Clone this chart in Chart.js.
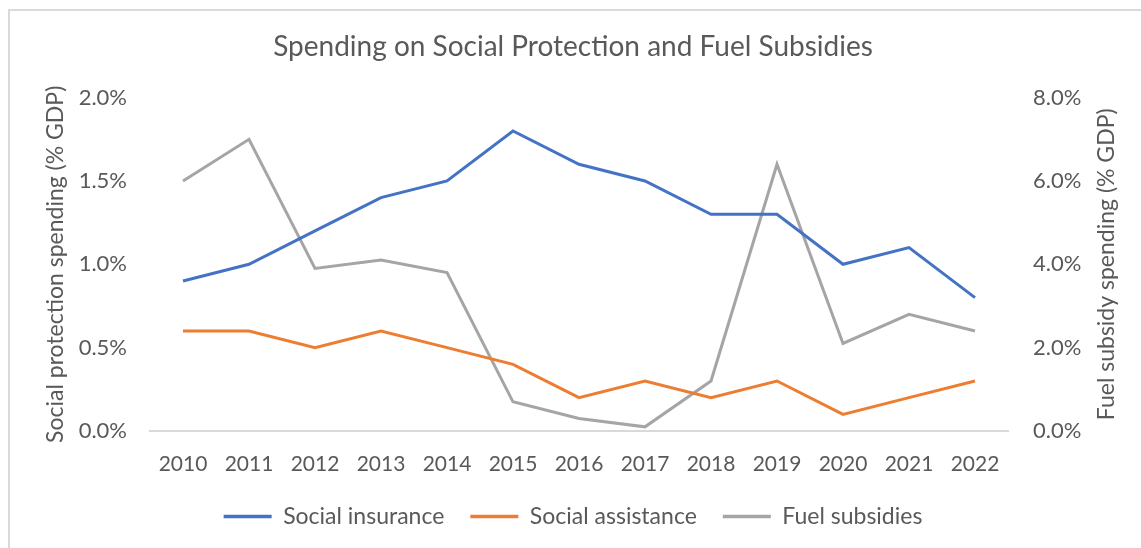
<!DOCTYPE html>
<html>
<head>
<meta charset="utf-8">
<script src="https://cdn.jsdelivr.net/npm/chart.js@4.4.1/dist/chart.umd.min.js"></script>
<style>
  html, body { margin: 0; padding: 0; background: #fff; }
  #frame {
    position: absolute; left: 8px; top: 9px; right: -10px; bottom: -10px;
    border-top: 2px solid #d9d9d9; border-left: 2px solid #d9d9d9;
  }
  #wrap { position: absolute; left: 0; top: 0; width: 1141px; height: 548px; }
</style>
</head>
<body>
<div id="frame"></div>
<div id="wrap"><canvas id="spendingChart" width="1141" height="548"></canvas></div>
<script>
const years = ['2010', '2011', '2012', '2013', '2014', '2015', '2016', '2017', '2018', '2019', '2020', '2021', '2022'];
const socialInsurance = [0.9, 1.0, 1.2, 1.4, 1.5, 1.8, 1.6, 1.5, 1.3, 1.3, 1.0, 1.1, 0.8];
const socialAssistance = [0.6, 0.6, 0.5, 0.6, 0.5, 0.4, 0.2, 0.3, 0.2, 0.3, 0.1, 0.2, 0.3];
const fuelSubsidies = [6.0, 7.0, 3.9, 4.1, 3.8, 0.7, 0.3, 0.1, 1.2, 6.4, 2.1, 2.8, 2.4];

const textGrey = '#595959';
const fontFamily = 'Lato, "Open Sans", sans-serif';
const rightTitle = 'Fuel subsidy spending (% GDP)';

// right-hand axis title, written bottom-to-top like the left one
const rightTitlePlugin = {
    id: 'rightTitle',
    afterDraw: function(chart) {
        const scale = chart.scales.y1;
        const area = chart.chartArea;
        const c = chart.ctx;
        c.save();
        c.translate(scale.right - 5 - 14, (area.top + area.bottom) / 2);
        c.rotate(-Math.PI / 2);
        c.font = '23px ' + fontFamily;
        c.fillStyle = textGrey;
        c.textAlign = 'center';
        c.textBaseline = 'middle';
        c.fillText(rightTitle, 0, 0);
        c.restore();
    }
};

const ctx = document.getElementById('spendingChart').getContext('2d');
const spendingChart = new Chart(ctx, {
    type: 'line',
    data: {
        labels: years,
        datasets: [{
            label: 'Social insurance',
            data: socialInsurance,
            borderColor: '#4472C4',
            backgroundColor: '#4472C4',
            borderWidth: 3,
            yAxisID: 'y'
        }, {
            label: 'Social assistance',
            data: socialAssistance,
            borderColor: '#ED7D31',
            backgroundColor: '#ED7D31',
            borderWidth: 3,
            yAxisID: 'y'
        }, {
            label: 'Fuel subsidies',
            data: fuelSubsidies,
            borderColor: '#A5A5A5',
            backgroundColor: '#A5A5A5',
            borderWidth: 3,
            yAxisID: 'y1'
        }]
    },
    plugins: [rightTitlePlugin],
    options: {
        responsive: false,
        animation: false,
        layout: {
            padding: { left: 20, right: 15, top: 30, bottom: 10 }
        },
        elements: {
            line: { tension: 0 },
            point: { radius: 0 }
        },
        plugins: {
            title: {
                display: true,
                text: 'Spending on Social Protection and Fuel Subsidies',
                color: textGrey,
                font: { family: fontFamily, size: 28, weight: 'normal' },
                padding: { top: 0, bottom: 34 }
            },
            legend: {
                position: 'bottom',
                labels: {
                    color: textGrey,
                    font: { family: fontFamily, size: 23 },
                    usePointStyle: true,
                    pointStyle: 'line',
                    pointStyleWidth: 48,
                    boxHeight: 23,
                    padding: 26,
                    // legend swatches drawn as thick line segments
                    generateLabels: function(chart) {
                        const items = Chart.defaults.plugins.legend.labels.generateLabels(chart);
                        items.forEach(function(item) { item.lineWidth = 3.5; });
                        return items;
                    }
                }
            },
            tooltip: { enabled: false }
        },
        scales: {
            x: {
                offset: true,
                grid: { display: false, drawTicks: false },
                border: { color: '#d9d9d9', width: 2 },
                ticks: {
                    color: textGrey,
                    font: { family: fontFamily, size: 21 },
                    maxRotation: 0,
                    padding: 21
                },
                afterFit: function(scale) { scale.height = 48; }
            },
            y: {
                position: 'left',
                min: 0,
                max: 2,
                grid: { display: false, drawTicks: false },
                border: { display: false },
                ticks: {
                    stepSize: 0.5,
                    color: textGrey,
                    font: { family: fontFamily, size: 22 },
                    padding: 23,
                    callback: function(value) { return value.toFixed(1) + '%'; }
                },
                title: {
                    display: true,
                    text: 'Social protection spending (% GDP)',
                    color: textGrey,
                    font: { family: fontFamily, size: 23 },
                    padding: { top: 22, bottom: 0 }
                },
                afterFit: function(scale) { scale.width = 130; }
            },
            y1: {
                position: 'right',
                min: 0,
                max: 8,
                grid: { display: false, drawTicks: false },
                border: { display: false },
                ticks: {
                    stepSize: 2,
                    color: textGrey,
                    font: { family: fontFamily, size: 22 },
                    padding: 25,
                    callback: function(value) { return value.toFixed(1) + '%'; }
                },
                afterFit: function(scale) { scale.width = 118; }
            }
        }
    }
});
</script>
</body>
</html>
